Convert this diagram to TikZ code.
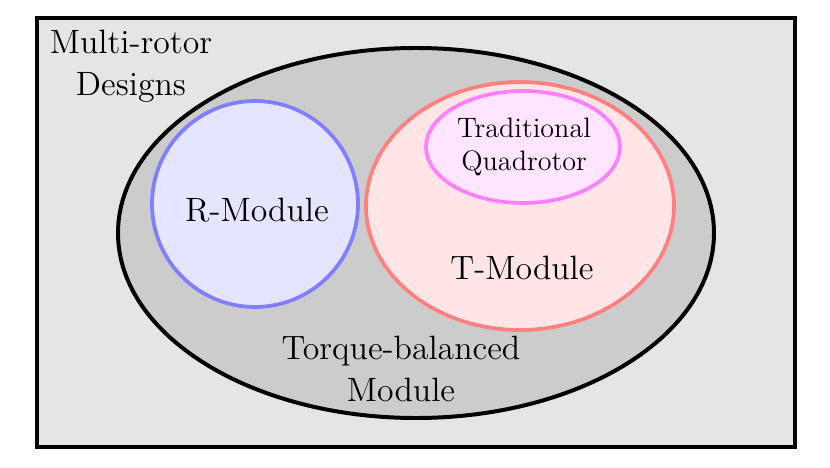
\documentclass[tikz,border=0pt]{standalone}
\usepackage{xcolor}
\usepackage{tikz}
\usetikzlibrary{positioning}
\definecolor{Xmagenta}{RGB}{255,0,255}
\definecolor{Xblue}{RGB}{0,0,255}
\definecolor{Xred}{RGB}{255,0,0}
\tikzset{
  outerset/.style={draw=black, fill=black!10, line width=1.9pt},
  tbset/.style={draw=black, fill=black!20, line width=1.7pt},
  rset/.style={draw=Xblue!50, fill=Xblue!10, line width=1.6pt},
  tset/.style={draw=Xred!50, fill=Xred!10, line width=1.6pt},
  qset/.style={draw=Xmagenta!50, fill=Xmagenta!10, line width=1.6pt},
  setlabel/.style={align=center, font=\Large, inner sep=0pt},
  smalllabel/.style={align=center, font=\large, inner sep=0pt}
}
\begin{document}
\begin{tikzpicture}[x=0.015cm, y=0.015cm]
  \useasboundingbox (0,0) rectangle (830,467);
  % sets
  \draw[outerset] (37,20) rectangle (795,449);
  \draw[tbset] (416,234) ellipse [x radius=298, y radius=185];
  \draw[rset] (255,263) circle [radius=103];
  \draw[tset] (520,261) ellipse [x radius=154, y radius=124];
  \draw[qset] (523,320) ellipse [x radius=97, y radius=56];
  % labels
  \node[setlabel] (multirotor) at (131,401) {Multi-rotor\\Designs};
  \node[setlabel] (rmodule) at (257,257) {R-Module};
  \node[setlabel] (tmodule) at (522,199) {T-Module};
  \node[setlabel] (tbmodule) at (401,98) {Torque-balanced\\Module};
  \node[smalllabel] (quadrotor) at (524,320) {Traditional\\Quadrotor};
\end{tikzpicture}
\end{document}
